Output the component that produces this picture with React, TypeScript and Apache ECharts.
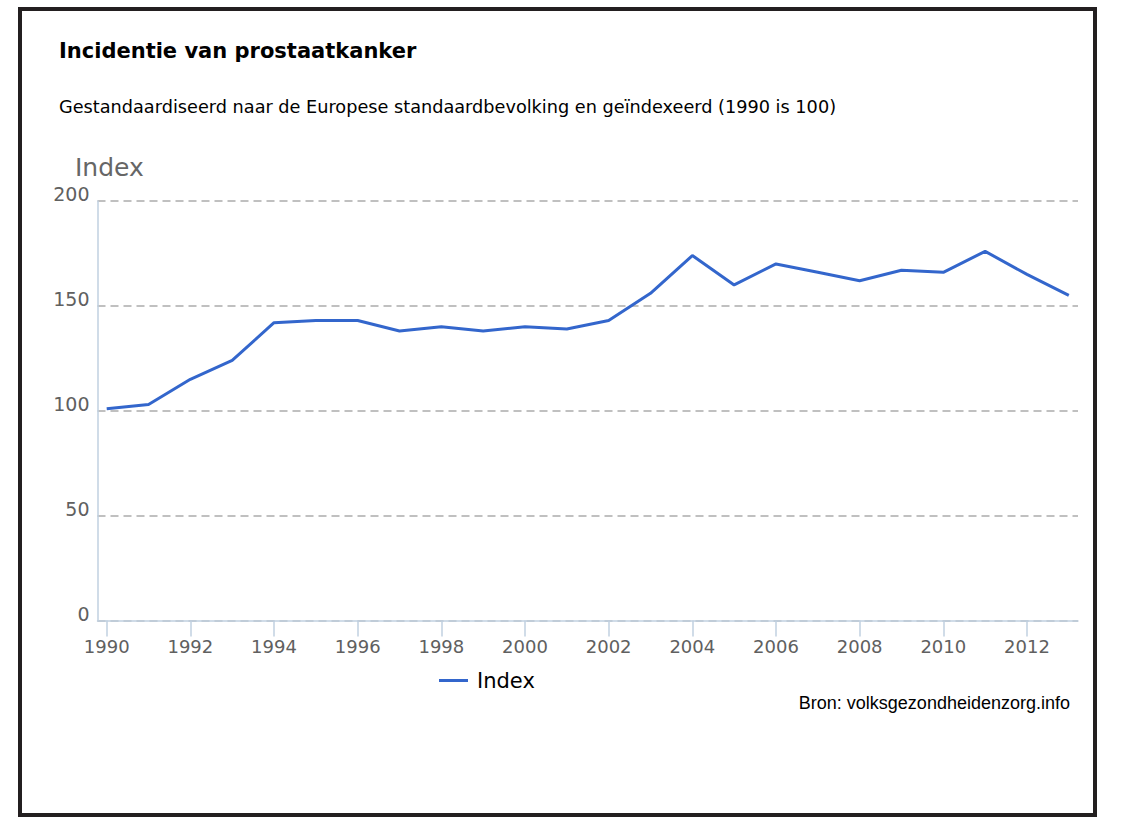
import React, { useEffect, useRef } from "react";
import * as echarts from "echarts";

const years = [1990, 1991, 1992, 1993, 1994, 1995, 1996, 1997, 1998, 1999, 2000, 2001, 2002, 2003, 2004, 2005, 2006, 2007, 2008, 2009, 2010, 2011, 2012, 2013];
const indexValues = [101, 103, 115, 124, 142, 143, 143, 138, 140, 138, 140, 139, 143, 156, 174, 160, 170, 166, 162, 167, 166, 176, 165, 155];
const yearTicks = [1990, 1992, 1994, 1996, 1998, 2000, 2002, 2004, 2006, 2008, 2010, 2012];
const seriesName = "Index";
const titleText = "Incidentie van prostaatkanker";
const subtitleText = "Gestandaardiseerd naar de Europese standaardbevolking en geïndexeerd (1990 is 100)";
const sourceText = "Bron: volksgezondheidenzorg.info";
const yAxisName = "Index";

export default function App() {
  const ref = useRef<HTMLDivElement>(null);
  useEffect(() => {
    if (!ref.current) return;
    const chart = echarts.init(ref.current, null, { renderer: "svg" });
    const sans = "'DejaVu Sans', Verdana, sans-serif";
    chart.setOption({
      animation: false,
      backgroundColor: "#ffffff",
      grid: { left: 97.5, right: 43, top: 201, bottom: 202.5 },
      xAxis: {
        type: "value",
        min: 1989.78,
        max: 2013.22,
        axisLine: { show: true, lineStyle: { color: "#C0D0E0", width: 1.5 } },
        axisTick: { show: true, customValues: yearTicks, length: 16, lineStyle: { color: "#C0D0E0", width: 1.5 } },
        axisLabel: {
          customValues: yearTicks,
          formatter: (v: number) => String(v),
          margin: 17,
          color: "#606060",
          fontSize: 18,
          fontFamily: sans,
        },
        splitLine: { show: false },
      },
      yAxis: {
        type: "value",
        min: 0,
        max: 200,
        interval: 50,
        axisLine: { show: true, lineStyle: { color: "#C0D0E0", width: 1.5 } },
        axisTick: { show: false },
        axisLabel: {
          margin: 8,
          color: "#606060",
          fontSize: 19,
          fontFamily: sans,
          verticalAlign: "bottom",
          lineHeight: 14,
        },
        splitLine: { show: true, lineStyle: { color: "#C0C0C0", width: 2, type: [8, 5] } },
      },
      legend: {
        data: [seriesName],
        left: 439,
        top: 670,
        padding: 0,
        icon: "rect",
        itemWidth: 29,
        itemHeight: 3,
        itemGap: 10,
        itemStyle: { color: "#3366CC" },
        textStyle: { color: "#000000", fontSize: 21, fontFamily: sans, padding: [0, 0, 0, 4] },
      },
      series: [
        {
          name: seriesName,
          type: "line",
          data: years.map((y, i) => [y, indexValues[i]]),
          symbol: "none",
          showSymbol: false,
          lineStyle: { color: "#3366CC", width: 3 },
          itemStyle: { color: "#3366CC" },
          z: 5,
        },
      ],
      graphic: [
        {
          type: "rect",
          shape: { x: 20, y: 9, width: 1075, height: 806 },
          style: { fill: "none", stroke: "#231F20", lineWidth: 4 },
          silent: true,
        },
        {
          type: "text",
          x: 59,
          y: 51,
          style: { text: titleText, fill: "#000000", font: `bold 21px ${sans}`, verticalAlign: "middle" },
        },
        {
          type: "text",
          x: 59,
          y: 107,
          style: { text: subtitleText, fill: "#000000", font: `17.7px ${sans}`, verticalAlign: "middle" },
        },
        {
          type: "text",
          x: 75,
          y: 167,
          style: { text: yAxisName, fill: "#666666", font: `25px ${sans}`, verticalAlign: "middle" },
        },
        {
          type: "text",
          x: 1070,
          y: 703,
          style: { text: sourceText, fill: "#000000", font: `18px 'Liberation Sans', Arial, sans-serif`, align: "right", verticalAlign: "middle" },
        },
      ],
    });
    return () => chart.dispose();
  }, []);
  return <div ref={ref} style={{ position: "fixed", left: 0, top: 0, width: 1121, height: 823 }} />;
}
